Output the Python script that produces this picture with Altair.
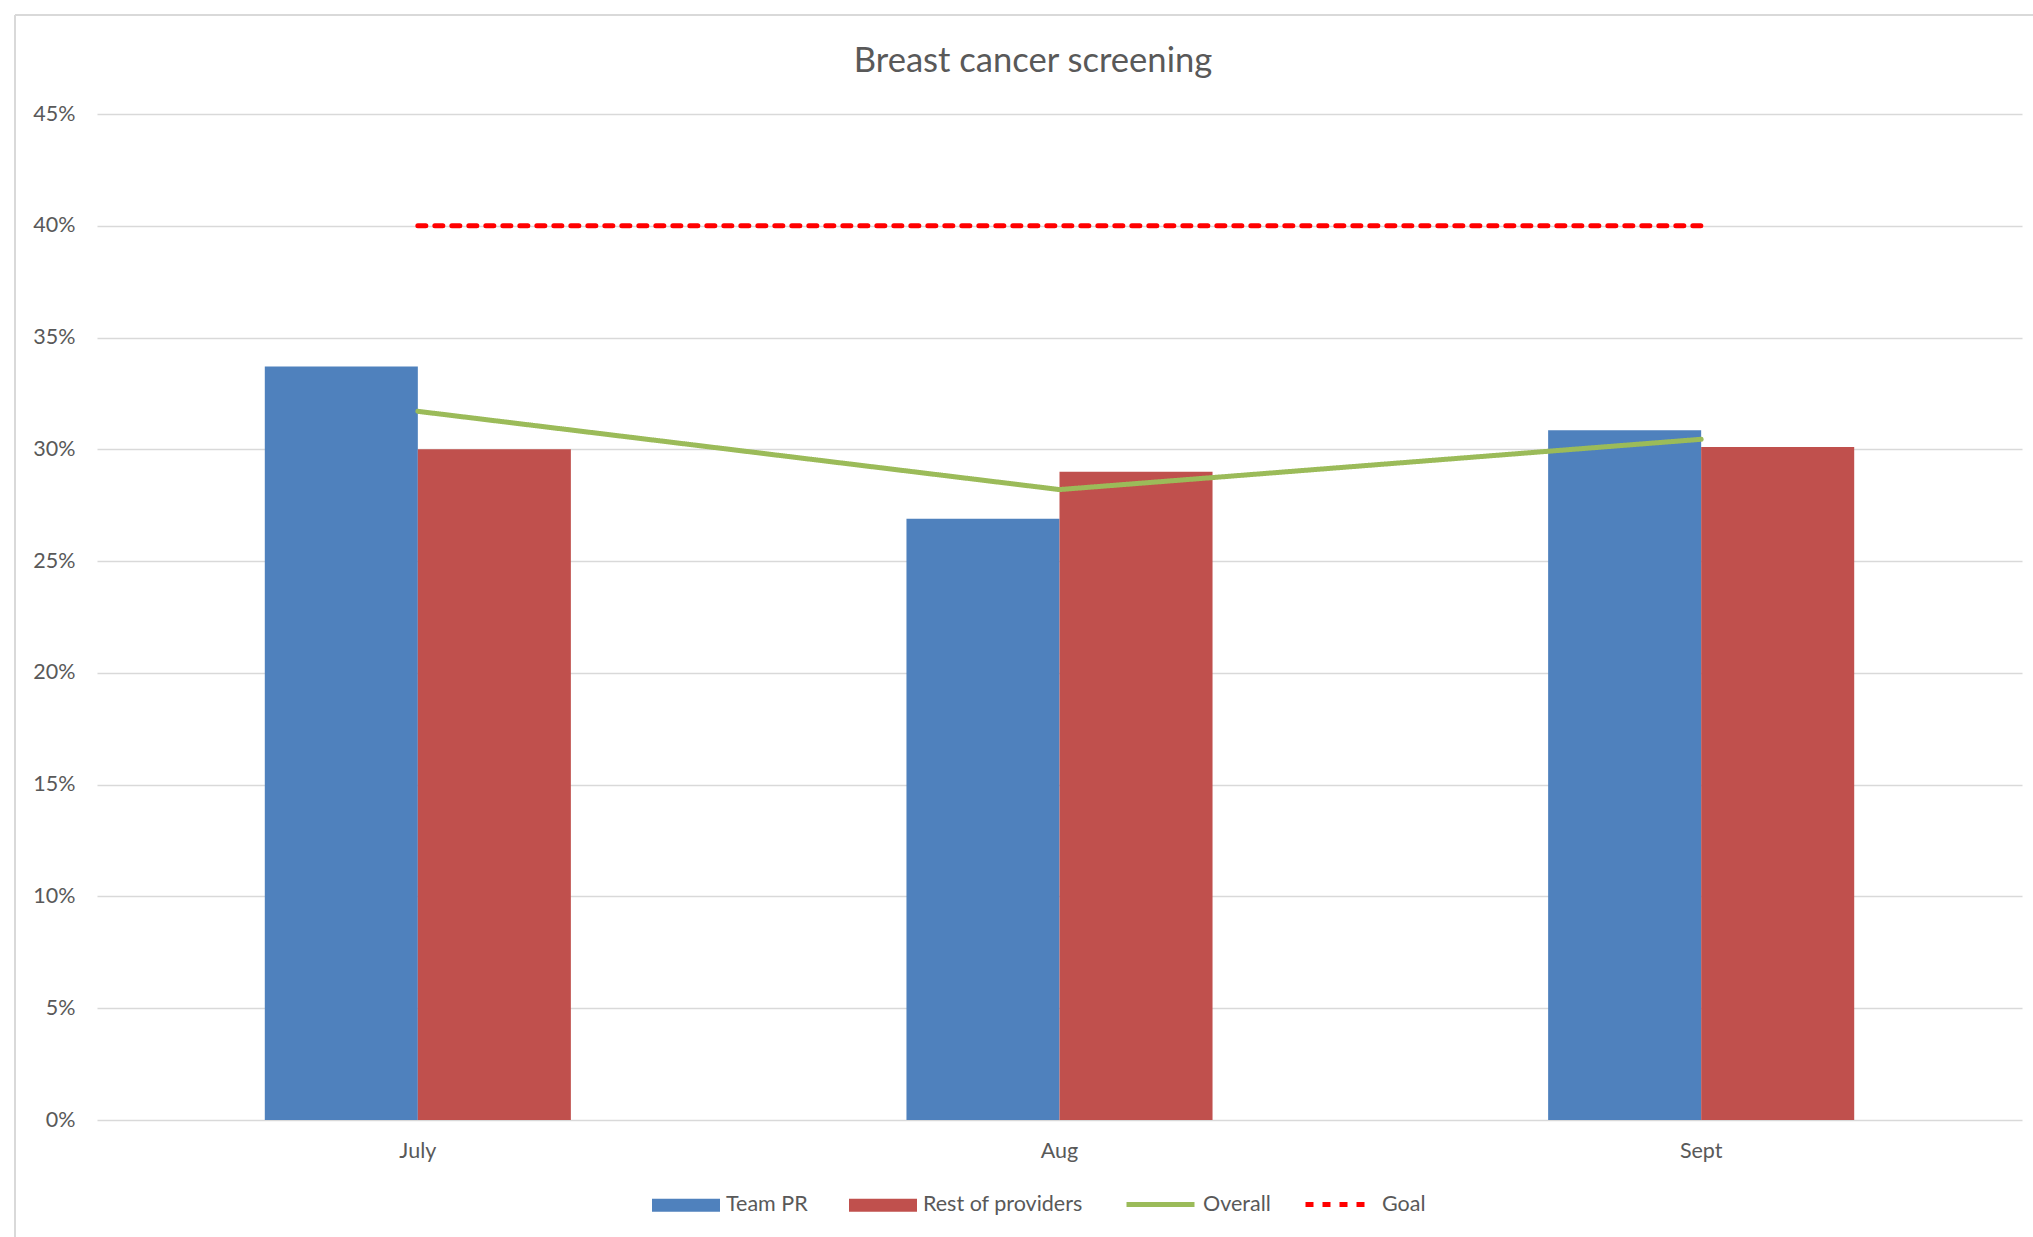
import altair as alt
import pandas as pd

# Monthly screening rates
months = ["July", "Aug", "Sept"]
team_pr = [0.337, 0.269, 0.3085]
rest_of_providers = [0.300, 0.290, 0.301]
overall = [0.317, 0.282, 0.3045]
goal = [0.40, 0.40, 0.40]

bar_series = ["Team PR", "Rest of providers"]
line_series = ["Overall", "Goal"]
y_ticks = [0.0, 0.05, 0.10, 0.15, 0.20, 0.25, 0.30, 0.35, 0.40, 0.45]
title_text = "Breast cancer screening"

FONT = "Lato"
TEXT = "#595959"
GRID = "#D9D9D9"
LABEL_SIZE = 21.5

bars_df = pd.DataFrame({
    "month": months * 2,
    "series": [bar_series[0]] * 3 + [bar_series[1]] * 3,
    "value": team_pr + rest_of_providers,
})
lines_df = pd.DataFrame({
    "month": months * 2,
    "series": [line_series[0]] * 3 + [line_series[1]] * 3,
    "value": overall + goal,
})

x_enc = alt.X(
    "month:N",
    sort=months,
    title=None,
    scale=alt.Scale(paddingInner=0.523, paddingOuter=0.2615),
    axis=alt.Axis(labelAngle=0, domain=False, ticks=False, labelPadding=20,
                  labelFontSize=LABEL_SIZE, labelColor=TEXT, labelFont=FONT),
)
y_enc = alt.Y(
    "value:Q",
    title=None,
    scale=alt.Scale(domain=[0, 0.45], nice=False),
    axis=alt.Axis(values=y_ticks, format=".0%", domain=False, ticks=False,
                  labelPadding=22, labelFontSize=LABEL_SIZE, labelColor=TEXT,
                  labelFont=FONT, gridColor=GRID, gridWidth=1.6),
)

legend_common = dict(
    orient="none",
    direction="horizontal",
    title=None,
    labelFontSize=LABEL_SIZE,
    labelColor=TEXT,
    labelFont=FONT,
    labelOffset=6,
    symbolSize=4624,
)

bars = alt.Chart(bars_df).mark_bar().encode(
    x=x_enc,
    xOffset=alt.XOffset("series:N", sort=bar_series, scale=alt.Scale(paddingInner=0, paddingOuter=0)),
    y=y_enc,
    color=alt.Color(
        "series:N",
        sort=bar_series,
        scale=alt.Scale(domain=bar_series, range=["#4F81BD", "#C0504D"]),
        legend=alt.Legend(legendX=555, legendY=1057, columnPadding=41,
                          symbolType="M-1,-0.19H1V0.19H-1Z",
                          symbolStrokeWidth=0, **legend_common),
    ),
)

line_legend = alt.Legend(legendX=1027, legendY=1054, columnPadding=24,
                         symbolType="stroke", symbolStrokeWidth=5,
                         **legend_common)

lines = alt.Chart(lines_df).mark_line(strokeWidth=5, strokeCap="round").encode(
    x=alt.X("month:N", sort=months),
    y=alt.Y("value:Q"),
    color=alt.Color(
        "series:N",
        sort=line_series,
        scale=alt.Scale(domain=line_series, range=["#9BBB59", "#FF0000"]),
        legend=line_legend,
    ),
    strokeDash=alt.StrokeDash(
        "series:N",
        sort=line_series,
        scale=alt.Scale(domain=line_series, range=[[1, 0], [8, 9]]),
        legend=line_legend,
    ),
)

# Chart title
title = alt.Chart(pd.DataFrame({"t": [title_text]})).mark_text(
    font=FONT, fontSize=34.6, color=TEXT, align="center", baseline="alphabetic"
).encode(text="t:N", x=alt.value(936), y=alt.value(-42))

# Outer frame of the chart area
one = pd.DataFrame({"k": [0]})
frame_top = alt.Chart(one).mark_rule(color=GRID, strokeWidth=2).encode(
    x=alt.value(-82), x2=alt.value(1950), y=alt.value(-99)
)
frame_left = alt.Chart(one).mark_rule(color=GRID, strokeWidth=2).encode(
    x=alt.value(-82), y=alt.value(-99), y2=alt.value(1140)
)

chart = (
    alt.layer(frame_top, frame_left, bars, lines, title)
    .resolve_scale(color="independent", strokeDash="independent")
    .properties(
        width=1925,
        height=1006,
        autosize=alt.AutoSizeParams(type="none"),
        padding={"left": 97, "top": 114, "right": 11, "bottom": 117},
        background="white",
    )
    .configure_view(stroke=None)
)

chart.save("out.html", embed_options={"renderer": "svg", "actions": False})
